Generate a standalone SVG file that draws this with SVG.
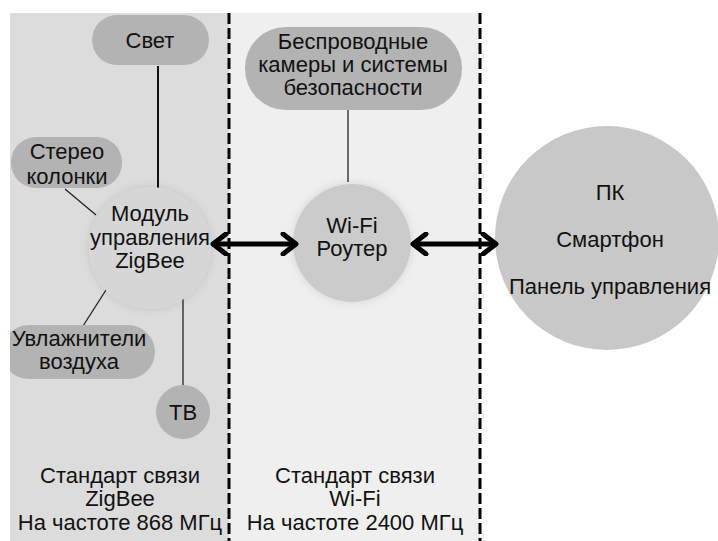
<svg xmlns="http://www.w3.org/2000/svg" width="718" height="541" viewBox="0 0 718 541">
  <defs>
    <filter id="soft" x="-30%" y="-30%" width="160%" height="160%">
      <feGaussianBlur in="SourceAlpha" stdDeviation="4" result="b"/>
      <feFlood flood-color="#000" flood-opacity="0.12"/>
      <feComposite in2="b" operator="in" result="s"/>
      <feMerge><feMergeNode in="s"/><feMergeNode in="SourceGraphic"/></feMerge>
    </filter>
    <clipPath id="leftZone"><rect x="10" y="13" width="219" height="528"/></clipPath>
    <marker id="chev" viewBox="0 0 20 24" refX="17" refY="12" markerWidth="20" markerHeight="24" markerUnits="userSpaceOnUse" orient="auto-start-reverse">
      <path d="M4,2 L17,12 L4,22" fill="none" stroke="#000" stroke-width="5" stroke-linecap="round" stroke-linejoin="round"/>
    </marker>
  </defs>
  <style>
    text { font-family: "Liberation Sans", Arial, sans-serif; font-size: 22px; fill: #111; text-anchor: middle; }
    .pill { fill: #b3b3b3; }
    .link { stroke: #111; stroke-width: 2; fill: none; }
    .thin { stroke: #222; stroke-width: 1.3; fill: none; }
    .arrow { stroke: #000; stroke-width: 5; fill: none; marker-start: url(#chev); marker-end: url(#chev); }
    .divider { stroke: #000; stroke-width: 3; stroke-dasharray: 11 4; }
  </style>

  <!-- zones -->
  <rect x="10" y="13" width="219" height="528" fill="#dcdcdc"/>
  <rect x="229" y="13" width="251" height="528" fill="#efefef"/>

  <!-- connectors -->
  <g id="connectors">
    <line class="link" x1="158" y1="66" x2="158" y2="190"/>
    <line class="thin" x1="65" y1="189" x2="96" y2="215"/>
    <line class="thin" x1="83" y1="326" x2="106" y2="290"/>
    <line class="thin" x1="183" y1="294" x2="183" y2="388"/>
    <line class="thin" x1="348" y1="110" x2="348" y2="182"/>
  </g>

  <g id="svet">
    <rect class="pill" x="92" y="15" width="117" height="50" rx="25"/>
    <text x="150" y="48">Свет</text>
  </g>

  <g id="stereo">
    <rect class="pill" x="11" y="137" width="111" height="51" rx="25"/>
    <text x="67" y="159">Стерео</text>
    <text x="67" y="184">колонки</text>
  </g>

  <g id="humidifiers" clip-path="url(#leftZone)">
    <rect class="pill" x="2" y="325" width="153" height="54" rx="27"/>
    <text x="79" y="346">Увлажнители</text>
    <text x="79" y="369">воздуха</text>
  </g>

  <g id="tv">
    <circle class="pill" cx="183" cy="412" r="27"/>
    <text x="183" y="420">ТВ</text>
  </g>

  <g id="zigbee-module">
    <circle cx="150" cy="248" r="61" fill="#d6d6d6" filter="url(#soft)"/>
    <text x="150" y="221">Модуль</text>
    <text x="150" y="245">управления</text>
    <text x="150" y="268">ZigBee</text>
  </g>

  <g id="cameras">
    <rect class="pill" x="245" y="27" width="217" height="83" rx="41"/>
    <text x="353" y="49">Беспроводные</text>
    <text x="353" y="72">камеры и системы</text>
    <text x="353" y="95">безопасности</text>
  </g>

  <g id="wifi-router">
    <circle cx="352" cy="243" r="59" fill="#cbcbcb" filter="url(#soft)"/>
    <text x="352" y="233">Wi-Fi</text>
    <text x="352" y="256">Роутер</text>
  </g>

  <g id="clients">
    <circle cx="607" cy="238" r="112" fill="#c8c8c8"/>
    <text x="610" y="200">ПК</text>
    <text x="610" y="247">Смартфон</text>
    <text x="610" y="294">Панель управления</text>
  </g>

  <!-- dashed zone borders -->
  <line class="divider" x1="229" y1="13" x2="229" y2="541"/>
  <line class="divider" x1="480" y1="13" x2="480" y2="541"/>

  <!-- data links -->
  <g id="links">
    <line class="arrow" x1="213" y1="244" x2="296" y2="244"/>
    <line class="arrow" x1="413" y1="244" x2="496" y2="244"/>
  </g>

  <g id="zone-labels">
    <text x="120" y="483">Стандарт связи</text>
    <text x="120" y="506">ZigBee</text>
    <text x="120" y="530">На частоте 868 МГц</text>
    <text x="355" y="483">Стандарт связи</text>
    <text x="355" y="506">Wi-Fi</text>
    <text x="355" y="530">На частоте 2400 МГц</text>
  </g>
</svg>
